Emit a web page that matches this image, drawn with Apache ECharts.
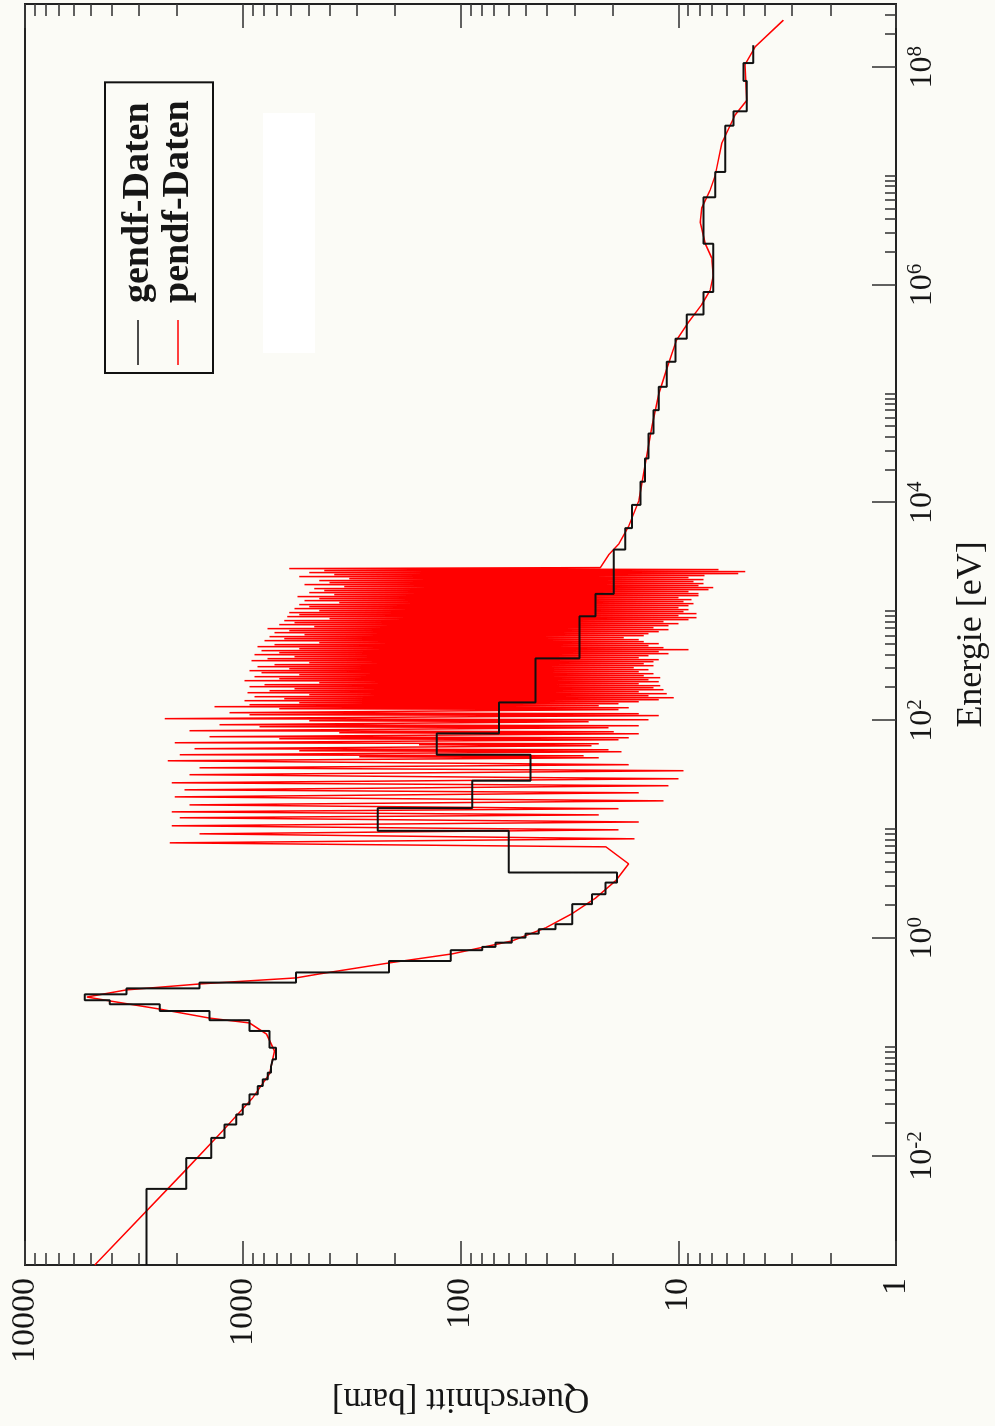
<!DOCTYPE html>
<html>
<head>
<meta charset="utf-8">
<script src="https://cdn.jsdelivr.net/npm/echarts@6/dist/echarts.min.js"></script>
<style>
html, body { margin: 0; padding: 0; overflow: hidden; background: #fbfbf6; width: 995px; height: 1426px; }
#wrap { position: absolute; left: 0; top: 0; width: 1426px; height: 995px;
        transform-origin: 0 0; transform: translate(0px, 1426px) rotate(-90deg); }
</style>
</head>
<body>
<div id="wrap"></div>
<script>
// ---------- data ----------
// gendf group boundaries (eV) and group cross sections (barn)
const gendfBounds = [0.001, 0.005, 0.0096, 0.0147, 0.0195, 0.0241, 0.0299, 0.0369, 0.044, 0.0507,
  0.0584, 0.0672, 0.0774, 0.0989, 0.141, 0.177, 0.215, 0.248, 0.270, 0.306, 0.347, 0.392, 0.486,
  0.619, 0.778, 0.834, 0.912, 1.015, 1.104, 1.213, 1.348, 2.06, 2.54, 3.25, 4.02, 9.71, 15.7, 28.0,
  48.5, 76.1, 146.6, 372, 906, 1455, 3715, 5845, 9550, 15600, 25500, 43200, 70800, 1.16e5, 1.97e5,
  3.21e5, 5.35e5, 8.61e5, 2.39e6, 6.38e6, 1.09e7, 2.9e7, 3.93e7, 7.47e7, 1.09e8, 1.59e8];
const gendfXS = [2770, 1816, 1395, 1212, 1072, 999, 931, 853, 809, 768, 741, 728, 703, 754, 931,
  1420, 2407, 4079, 5310, 3420, 1578, 569, 213, 111, 79.4, 69.0, 58.1, 50.3, 43.7, 36.6, 30.7, 24.9,
  21.6, 19.1, 60.0, 240, 88.3, 47.7, 128.5, 66.6, 45.2, 28.4, 24.0, 19.8, 17.5, 16.3, 14.9, 14.2,
  13.7, 13.0, 12.3, 11.3, 10.3, 9.14, 7.66, 6.90, 7.66, 6.77, 6.09, 5.58, 4.85, 5.02, 4.52];

// pendf pointwise data: energy (eV) and cross section (barn)
const pendfE = [
  // thermal region and 0.3 eV resonance
  0.001, 0.0076, 0.017, 0.0341, 0.0568, 0.0923, 0.132, 0.167, 0.185, 0.224, 0.266,
  0.289, 0.336, 0.381, 0.433, 0.471, 0.594, 0.72, 0.946, 1.25, 1.68, 2.35, 3.37, 4.83, 6.92,
  // resolved resonances (peak / valley)
  7.53, 8.20, 9.11, 9.92, 10.8, 11.7, 12.8, 13.6, 14.5, 15.5, 16.8, 18.3, 19.9, 21.7, 23.1, 25.2,
  26.8, 29.2, 31.8, 34.6, 36.8, 39.3, 42.7, 45.5, 46.48, 47.48, 48.5, 51.7, 52.77, 53.90, 55.1, 58.7,
  59.93, 61.21, 62.5, 66.6, 68.04, 69.50, 71.0, 75.6, 77.25, 78.90, 80.6, 85.9, 87.72, 89.59, 91.5,
  97.5, 99.58, 101.7, 104, 111, 113.0, 115.5, 118, 126, 128.4, 131.1, 134,
  136.8, 139.7, 142.7, 145.8, 148.9, 152.1, 155.3, 158.7, 162.0, 165.5, 169.0, 172.7, 176.4, 180.1,
  184.0, 187.9, 191.9, 196.0, 200.2, 204.5, 208.9, 213.3, 217.9, 222.6, 227.3, 232.2, 237.1, 242.2,
  247.4, 252.7, 258.1, 263.6, 269.2, 275.0, 280.9, 286.9, 293.0, 299.3, 305.7, 312.2, 318.9, 325.8,
  332.7, 339.8, 347.1, 354.5, 362.1, 369.9, 377.8, 385.9, 394.1, 402.6, 411.2, 420.0, 429.0, 438.1,
  447.5, 457.0, 466.8, 476.8, 487.0, 497.4, 508.1, 518.9, 530.0, 541.3, 552.9, 564.7, 576.8, 589.2,
  601.8, 614.6, 627.8, 641.2, 654.9, 669.0, 683.3, 697.9, 712.8, 728.1, 743.6, 759.6, 775.8, 792.4,
  809.4, 826.7, 844.4, 862.5, 880.9, 899.8, 919.0, 938.7, 958.8, 979.3, 1000, 1021, 1043, 1066,
  1088, 1112, 1135, 1160, 1184, 1210, 1236, 1262, 1289, 1317, 1345, 1374, 1403, 1433, 1464, 1495,
  1527, 1560, 1593, 1627, 1662, 1698, 1734, 1771, 1809, 1848, 1887, 1928, 1969, 2011, 2054, 2098,
  2143, 2189, 2236, 2283, 2332, 2382, 2433, 2485, 2538,
  // smooth region above the resonances
  3313, 4156, 6070, 10300, 21980, 50480, 99590, 169400, 309700, 453000, 660400, 894000, 1.21e6,
  1.767e6, 2.392e6, 3.763e6, 5.09e6, 7.43e6, 1.006e7, 1.99e7, 3.64e7, 4.93e7, 1.05e8, 1.533e8, 2.70e8];
const pendfXS = [
  4780, 1810, 1238, 902, 754, 715, 778, 931, 1420, 2407, 4079,
  5200, 3420, 1578, 569, 445, 213, 109, 58, 40.6, 30.8, 23.9, 19.4, 16.9, 21.5,
  2166, 15.9, 1578, 18.8, 2121, 15.2, 1949, 23.2, 2121, 18.8, 1754, 11.7, 2055, 15.2, 1849, 11.1,
  2121, 9.97, 1754, 9.46, 1578, 16.9, 2212, 23.2, 292, 27.2, 1949, 18.2, 550, 20.9, 1664, 25.0,
  155, 23.2, 2055, 18.8, 679, 16.9, 1420, 15.2, 360, 19.8, 1754, 20.9, 838, 15.2, 1278,
  25.8, 495, 13.7, 2283, 12.3, 931, 15.2, 1150, 18.8, 679, 16.9, 1347,
  23.2, 931, 18.8, 550, 15.2, 982, 12.3, 644, 10.5, 884, 13.7, 495, 11.3, 951,
  15.2, 754, 11.7, 579, 13.0, 931, 12.1, 795, 15.2, 445, 12.3, 982, 13.7, 679,
  12.1, 884, 14.4, 550, 13.0, 821, 15.2, 931, 13.7, 611, 16.0, 856, 13.0, 715,
  14.4, 495, 13.0, 912, 12.3, 770, 15.2, 579, 13.7, 884, 11.1, 679, 12.3, 821,
  8.98, 550, 11.7, 856, 13.7, 715, 12.3, 445, 14.4, 795, 15.2, 644, 17.8, 754,
  14.4, 521, 13.7, 715, 12.3, 611, 11.1, 770, 13.0, 469, 11.1, 679, 9.97, 579,
  11.7, 644, 8.98, 400, 8.25, 624, 9.97, 550, 8.25, 611, 9.46, 445, 8.98, 579,
  9.97, 495, 8.98, 550, 8.51, 360, 9.46, 521, 8.70, 445, 9.97, 561, 8.08, 380, 8.08, 495,
  8.98, 422, 7.27, 469, 6.90, 342, 8.08, 521, 7.66, 400, 8.51, 445, 7.66, 324, 8.98, 550,
  7.58, 380, 5.30, 495, 4.92, 422, 6.54, 611, 22.8,
  20.9, 18.8, 16.9, 15.2, 14.2, 13.2, 12.3, 11.3, 10.2, 8.98, 7.80, 7.14, 6.90,
  7.02, 7.52, 7.93, 7.80, 7.14, 6.77, 6.32, 5.48, 4.85, 4.94, 4.44, 3.29];

// tick labels
const energyTickLabels = [0.01, 1, 100, 1e4, 1e6, 1e8];
const sigmaTickLabels = [1, 10, 100, 1000, 10000];

// ---------- build ----------
const gendfData = [];
for (let k = 0; k < gendfXS.length; k++) {
  gendfData.push([gendfBounds[k], gendfXS[k]]);
  gendfData.push([gendfBounds[k + 1], gendfXS[k]]);
}
const pendfData = pendfE.map((e, i) => [e, pendfXS[i]]);

const eMin = 0.001, eMax = 3.8e8, sMin = 1, sMax = 10000;
const energyMinor = [];
energyTickLabels.forEach(v => { for (let m = 2; m <= 10; m++) { const t = v * m; if (t < eMax) energyMinor.push(t); } });
const sigmaMinor = [];
sigmaTickLabels.forEach(v => { for (let m = 2; m <= 9; m++) { const t = v * m; if (t < sMax) sigmaMinor.push(t); } });

const serif = "'Liberation Serif', 'Times New Roman', serif";
const ink = '#161616';
const tickStyle = { color: '#3a3a3a', width: 1.6 };

function expLabel(v) {
  const p = Math.round(Math.log10(v));
  return '{b|10}{s|' + p + '}';
}

const chart = echarts.init(document.getElementById('wrap'), null, { renderer: 'canvas' });
chart.setOption({
  animation: false,
  backgroundColor: '#fbfbf6',
  grid: { left: 161, right: 4, top: 25, bottom: 97, show: true, borderColor: '#222', borderWidth: 2, backgroundColor: 'transparent' },
  legend: {
    data: [
      { name: 'gendf-Daten', icon: 'rect' },
      { name: 'pendf-Daten', icon: 'rect' }
    ],
    orient: 'vertical', left: 1053, top: 105,
    padding: [13, 18, 15, 8],
    borderColor: '#111', borderWidth: 2, borderRadius: 0,
    itemWidth: 45, itemHeight: 1.6, itemGap: 0,
    textStyle: { fontFamily: serif, fontWeight: 'bold', fontSize: 38, lineHeight: 40, color: ink, padding: [0, 0, 0, 12] }
  },
  graphic: [
    { type: 'rect', left: 1073, top: 263, shape: { width: 240, height: 52 }, style: { fill: '#ffffff' }, silent: true }
  ],
  xAxis: [
    {
      type: 'log', logBase: 10, min: eMin, max: eMax, position: 'bottom',
      axisLine: { show: false }, splitLine: { show: false },
      axisTick: { show: true, inside: true, length: 24, lineStyle: tickStyle, customValues: energyTickLabels },
      axisLabel: {
        show: true, customValues: energyTickLabels, margin: 9, formatter: expLabel,
        rich: {
          b: { fontFamily: serif, fontSize: 32, color: ink, lineHeight: 36 },
          s: { fontFamily: serif, fontSize: 21, color: ink, lineHeight: 22, verticalAlign: 'top' }
        }
      },
      name: 'Energie [eV]', nameLocation: 'middle', nameGap: 58,
      nameTextStyle: { fontFamily: serif, fontSize: 36, color: ink }
    },
    {
      type: 'log', logBase: 10, min: eMin, max: eMax, position: 'bottom',
      axisLine: { show: false }, splitLine: { show: false }, axisLabel: { show: false },
      axisTick: { show: true, inside: true, length: 11, lineStyle: tickStyle, customValues: energyMinor }
    }
  ],
  yAxis: [
    {
      type: 'log', logBase: 10, min: sMin, max: sMax, position: 'left',
      axisLine: { show: false }, splitLine: { show: false },
      axisTick: { show: true, inside: true, length: 24, lineStyle: tickStyle, customValues: sigmaTickLabels },
      axisLabel: { show: true, customValues: sigmaTickLabels, margin: 13, fontFamily: serif, fontSize: 34, color: ink,
        formatter: v => String(Math.round(v)) },
      name: 'Querschnitt [barn]', nameLocation: 'middle', nameGap: 116,
      nameTextStyle: { fontFamily: serif, fontSize: 35, color: ink }
    },
    {
      type: 'log', logBase: 10, min: sMin, max: sMax, position: 'left',
      axisLine: { show: false }, splitLine: { show: false }, axisLabel: { show: false },
      axisTick: { show: true, inside: true, length: 12, lineStyle: tickStyle, customValues: sigmaMinor }
    },
    {
      type: 'log', logBase: 10, min: sMin, max: sMax, position: 'right',
      axisLine: { show: false }, splitLine: { show: false }, axisLabel: { show: false },
      axisTick: { show: true, inside: true, length: 24, lineStyle: tickStyle, customValues: sigmaTickLabels }
    },
    {
      type: 'log', logBase: 10, min: sMin, max: sMax, position: 'right',
      axisLine: { show: false }, splitLine: { show: false }, axisLabel: { show: false },
      axisTick: { show: true, inside: true, length: 12, lineStyle: tickStyle, customValues: sigmaMinor }
    }
  ],
  series: [
    {
      name: 'pendf-Daten', type: 'line', xAxisIndex: 0, yAxisIndex: 0, data: pendfData,
      symbol: 'none', lineStyle: { color: '#ff0000', width: 1.5 }, itemStyle: { color: '#ff0000' },
      silent: true, z: 2
    },
    {
      name: 'gendf-Daten', type: 'line', xAxisIndex: 0, yAxisIndex: 0, data: gendfData,
      symbol: 'none', lineStyle: { color: '#111111', width: 2 }, itemStyle: { color: '#111111' },
      silent: true, z: 3
    }
  ]
});
</script>
</body>
</html>
